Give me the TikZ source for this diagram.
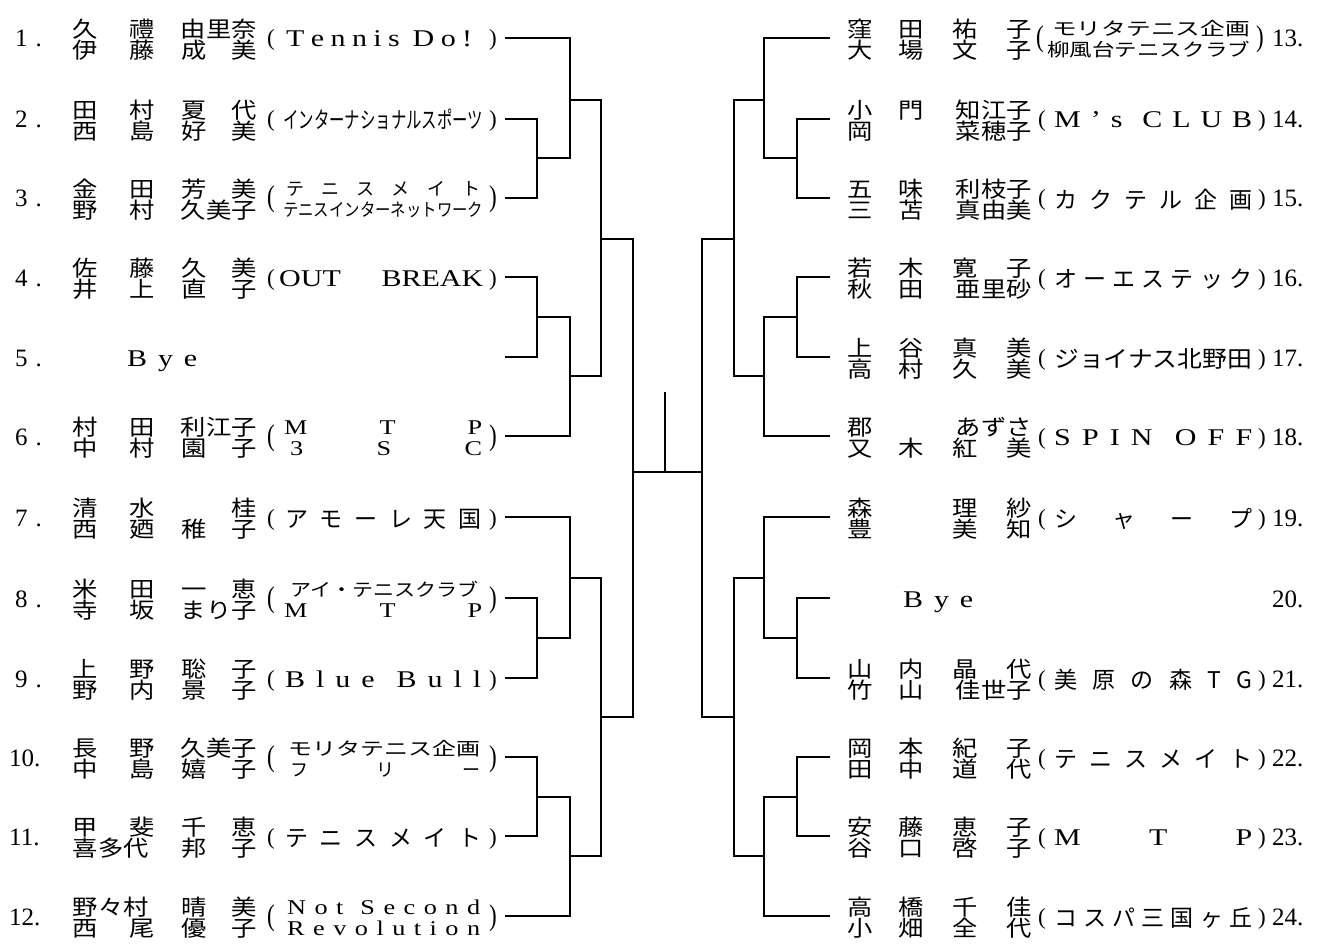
\documentclass[tikz,border=0pt]{standalone}
\usepackage{fontspec}
\usepackage{graphicx}
\setmainfont{Liberation Serif}
\newfontfamily\latw[FakeStretch=1.25]{Liberation Serif}
\newfontfamily\jp[FakeStretch=1.15]{Noto Sans CJK JP}
\newfontfamily\jpn{Noto Sans CJK JP}
\newcommand\Cs[1]{\makebox[25pt]{#1}}
\def\gA{32pt}\def\gB{27pt}\def\gC{25pt}
\newcommand\NQ[4]{\Cs{#1}\hspace{\gA}\Cs{#2}\hspace{\gB}\Cs{#3}\hspace{\gC}\Cs{#4}}
\newcommand\NP[3]{\Cs{#1}\hspace{\gA}\Cs{#2}\hspace{\gB}\makebox[\dimexpr50pt+\gC\relax][r]{#3}}
\newcommand\NF[3]{\makebox[\dimexpr50pt+\gA+\gB\relax][l]{#1}\Cs{#2}\hspace{\gC}\Cs{#3}}
\newcommand\Sp[2]{\makebox[#1][s]{#2}}
\newcommand\Fit[2]{\resizebox{#1}{\height}{#2}}
\newcommand\Ent[5]{\node[nm] (#1a) at (#2,#3-0.5) {#4};\node[nm] (#1b) at (#2,#3+20.5) {#5};}
\newcommand\PP[4]{\node[paren,anchor=base west] (#1l) at (#2,#4+8) {(};\node[paren,anchor=base east] (#1r) at (#3,#4+8) {)};}
\newcommand\PPt[4]{\node[paren,anchor=base west] (#1l) at (#2,#4+9) {\scalebox{1}[1.3]{(}};\node[paren,anchor=base east] (#1r) at (#3,#4+9) {\scalebox{1}[1.3]{)}};}
\begin{document}
\begin{tikzpicture}[x=1pt,y=-1pt,
  br/.style={line width=1.5pt,line join=miter},
  nm/.style={anchor=base west,inner sep=0pt,font=\jp\fontsize{22}{22}\selectfont},
  lat/.style={anchor=base west,inner sep=0pt,font=\latw\fontsize{24}{24}\selectfont},
  lats/.style={anchor=base west,inner sep=0pt,font=\latw\fontsize{21}{21}\selectfont},
  jpc/.style={anchor=base west,inner sep=0pt,font=\jpn\fontsize{23}{23}\selectfont},
  jps/.style={anchor=base west,inner sep=0pt,font=\jpn\fontsize{18}{18}\selectfont},
  paren/.style={inner sep=0pt,font=\fontsize{23}{23}\selectfont},
  num/.style={anchor=base west,inner sep=0pt,font=\fontsize{25}{25}\selectfont}]
\fill[white] (0,0) rectangle (1319,944);
\useasboundingbox (0,0) rectangle (1319,944);

% ---------- numbers ----------
\node[num] (k1) at (15,38+9) {1\kern8pt.};
\node[num] (k2) at (15,119+9) {2\kern8pt.};
\node[num] (k3) at (15,198+9) {3\kern8pt.};
\node[num] (k4) at (15,277+9) {4\kern8pt.};
\node[num] (k5) at (15,357+9) {5\kern8pt.};
\node[num] (k6) at (15,436+9) {6\kern8pt.};
\node[num] (k7) at (15,517+9) {7\kern8pt.};
\node[num] (k8) at (15,598+9) {8\kern8pt.};
\node[num] (k9) at (15,678+9) {9\kern8pt.};
\node[num] (k10) at (9,757+9) {10.};
\node[num] (k11) at (9,836+9) {11.};
\node[num] (k12) at (9,916+9) {12.};
\node[num] (k13) at (1272,38+9) {13.};
\node[num] (k14) at (1272,119+9) {14.};
\node[num] (k15) at (1272,198+9) {15.};
\node[num] (k16) at (1272,277+9) {16.};
\node[num] (k17) at (1272,357+9) {17.};
\node[num] (k18) at (1272,436+9) {18.};
\node[num] (k19) at (1272,517+9) {19.};
\node[num] (k20) at (1272,598+9) {20.};
\node[num] (k21) at (1272,678+9) {21.};
\node[num] (k22) at (1272,757+9) {22.};
\node[num] (k23) at (1272,836+9) {23.};
\node[num] (k24) at (1272,916+9) {24.};

% ---------- left names ----------
\def\gA{32pt}\def\gB{27pt}\def\gC{25pt}
\Ent{n1}{72.5}{38}{\NP{久}{禮}{由里奈}}{\NQ{伊}{藤}{成}{美}}
\Ent{n2}{72.5}{119}{\NQ{田}{村}{夏}{代}}{\NQ{西}{島}{好}{美}}
\Ent{n3}{72.5}{198}{\NQ{金}{田}{芳}{美}}{\NP{野}{村}{久美子}}
\Ent{n4}{72.5}{277}{\NQ{佐}{藤}{久}{美}}{\NQ{井}{上}{直}{子}}
\node[lat] (bye5) at (127,357+9) {\Sp{70pt}{B y e}};
\Ent{n6}{72.5}{436}{\NP{村}{田}{利江子}}{\NQ{中}{村}{園}{子}}
\Ent{n7}{72.5}{517}{\NQ{清}{水}{}{桂}}{\NQ{西}{廼}{稚}{子}}
\Ent{n8}{72.5}{598}{\NQ{米}{田}{一}{恵}}{\NP{寺}{坂}{まり子}}
\Ent{n9}{72.5}{678}{\NQ{上}{野}{聡}{子}}{\NQ{野}{内}{景}{子}}
\Ent{n10}{72.5}{757}{\NP{長}{野}{久美子}}{\NQ{中}{島}{嬉}{子}}
\Ent{n11}{72.5}{836}{\NQ{甲}{斐}{千}{恵}}{\NF{喜多代}{邦}{子}}
\Ent{n12}{72.5}{916}{\NF{野々村}{晴}{美}}{\NQ{西}{尾}{優}{子}}

% ---------- right names ----------
\def\gA{26pt}\def\gB{29pt}\def\gC{29pt}
\Ent{n13}{847.5}{38}{\NQ{窪}{田}{祐}{子}}{\NQ{大}{場}{文}{子}}
\Ent{n14}{847.5}{119}{\NP{小}{門}{知江子}}{\NP{岡}{}{菜穂子}}
\Ent{n15}{847.5}{198}{\NP{五}{味}{利枝子}}{\NP{三}{苫}{真由美}}
\Ent{n16}{847.5}{277}{\NQ{若}{木}{寛}{子}}{\NP{秋}{田}{亜里砂}}
\Ent{n17}{847.5}{357}{\NQ{上}{谷}{真}{美}}{\NQ{高}{村}{久}{美}}
\Ent{n18}{847.5}{436}{\NP{郡}{}{あずさ}}{\NQ{又}{木}{紅}{美}}
\Ent{n19}{847.5}{517}{\NQ{森}{}{理}{紗}}{\NQ{豊}{}{美}{知}}
\node[lat] (bye20) at (903,598+9) {\Sp{70pt}{B y e}};
\Ent{n21}{847.5}{678}{\NQ{山}{内}{晶}{代}}{\NP{竹}{山}{佳世子}}
\Ent{n22}{847.5}{757}{\NQ{岡}{本}{紀}{子}}{\NQ{田}{中}{道}{代}}
\Ent{n23}{847.5}{836}{\NQ{安}{藤}{恵}{子}}{\NQ{谷}{口}{啓}{子}}
\Ent{n24}{847.5}{916}{\NQ{高}{橋}{千}{佳}}{\NQ{小}{畑}{全}{代}}

% ---------- left clubs ----------
\PP{p1}{267}{497}{38}
\node[lat] (c1) at (286,38+9) {\Sp{186pt}{T e n n i s ~D o !}};
\PP{p2}{267}{497}{119}
\node[jpc] (c2) at (283,119+10) {\Fit{200pt}{インターナショナルスポーツ}};
\PPt{p3}{267}{497}{198}
\node[jps] (c3a) at (286,198-2) {\Sp{194pt}{テ ニ ス メ イ ト}};
\node[jps] (c3b) at (283,198+19) {\Fit{200pt}{テニスインターネットワーク}};
\PP{p4}{267}{497}{277}
\node[lat] (c4) at (279,277+9) {\Sp{204pt}{OUT BREAK}};
\PPt{p6}{267}{497}{436}
\node[lats] (c6a) at (284,436-1.5) {\Sp{198pt}{M T P}};
\node[lats] (c6b) at (290,436+19.5) {\Sp{192pt}{3 S C}};
\PP{p7}{267}{497}{517}
\node[jpc] (c7) at (285,517+10) {\Sp{196pt}{ア モ ー レ 天 国}};
\PPt{p8}{267}{497}{598}
\node[jps] (c8a) at (290,598-2) {\Fit{188pt}{アイ・テニスクラブ}};
\node[lats] (c8b) at (284,598+19.5) {\Sp{198pt}{M T P}};
\PP{p9}{267}{497}{678}
\node[lat] (c9) at (285,678+9) {\Sp{196pt}{B l u e ~B u l l}};
\PPt{p10}{267}{497}{757}
\node[jps] (c10a) at (288,757-2) {\Fit{192pt}{モリタテニス企画}};
\node[jps] (c10b) at (290,757+19) {\Sp{190pt}{フ リ ー}};
\PP{p11}{267}{497}{836}
\node[jpc] (c11) at (285,836+10) {\Sp{196pt}{テ ニ ス メ イ ト}};
\PPt{p12}{267}{497}{916}
\node[lats] (c12a) at (287,916-1.5) {\Sp{193pt}{N o t ~S e c o n d}};
\node[lats] (c12b) at (287,916+19.5) {\Sp{193pt}{R e v o l u t i o n}};

% ---------- right clubs ----------
\PPt{p13}{1036}{1264}{38}
\node[jps] (c13a) at (1052,38-2) {\Fit{198pt}{モリタテニス企画}};
\node[jps] (c13b) at (1047,38+19) {\Fit{203pt}{柳風台テニスクラブ}};
\PP{p14}{1038}{1266}{119}
\node[lat] (c14) at (1054,119+9) {\Sp{198pt}{M ’ s ~C L U B}};
\PP{p15}{1038}{1266}{198}
\node[jpc] (c15) at (1054,198+10) {\Sp{198pt}{カ ク テ ル 企 画}};
\PP{p16}{1038}{1266}{277}
\node[jpc] (c16) at (1054,277+10) {\Sp{198pt}{オ ー エ ス テ ッ ク}};
\PP{p17}{1038}{1266}{357}
\node[jpc] (c17) at (1054,357+10) {\Fit{198pt}{ジョイナス北野田}};
\PP{p18}{1038}{1266}{436}
\node[lat] (c18) at (1054,436+9) {\Sp{198pt}{S P I N ~O F F}};
\PP{p19}{1038}{1266}{517}
\node[jpc] (c19) at (1054,517+10) {\Sp{198pt}{シ ャ ー プ}};
\PP{p21}{1038}{1266}{678}
\node[jpc] (c21) at (1054,678+10) {\Sp{198pt}{美 原 の 森 T G}};
\PP{p22}{1038}{1266}{757}
\node[jpc] (c22) at (1054,757+10) {\Sp{198pt}{テ ニ ス メ イ ト}};
\PP{p23}{1038}{1266}{836}
\node[lat] (c23) at (1054,836+9) {\Sp{198pt}{M T P}};
\PP{p24}{1038}{1266}{916}
\node[jpc] (c24) at (1054,916+10) {\Sp{198pt}{コ ス パ 三 国 ヶ 丘}};

% ---------- bracket coordinates ----------
\coordinate (e1) at (505,38);  \coordinate (e2) at (505,119);
\coordinate (e3) at (505,198); \coordinate (e4) at (505,277);
\coordinate (e5) at (505,357); \coordinate (e6) at (505,436);
\coordinate (e7) at (505,517); \coordinate (e8) at (505,598);
\coordinate (e9) at (505,678); \coordinate (e10) at (505,757);
\coordinate (e11) at (505,836);\coordinate (e12) at (505,916);
\coordinate (e13) at (830,38);  \coordinate (e14) at (830,119);
\coordinate (e15) at (830,198); \coordinate (e16) at (830,277);
\coordinate (e17) at (830,357); \coordinate (e18) at (830,436);
\coordinate (e19) at (830,517); \coordinate (e20) at (830,598);
\coordinate (e21) at (830,678); \coordinate (e22) at (830,757);
\coordinate (e23) at (830,836); \coordinate (e24) at (830,916);
\coordinate (m23) at (537,158);  \coordinate (mA) at (570,100);
\coordinate (m45) at (537,317);  \coordinate (mB) at (570,376);
\coordinate (qA) at (601,239);
\coordinate (m89) at (537,638);  \coordinate (mC) at (570,578);
\coordinate (m1011) at (537,797);\coordinate (mD) at (570,856);
\coordinate (qB) at (601,717);
\coordinate (sL) at (633,472);
\coordinate (n1415) at (797,158); \coordinate (nA) at (764,100);
\coordinate (n1617) at (797,317); \coordinate (nB) at (764,376);
\coordinate (rA) at (734,239);
\coordinate (n2021) at (797,638); \coordinate (nC) at (764,578);
\coordinate (n2223) at (797,797); \coordinate (nD) at (764,856);
\coordinate (rB) at (734,717);
\coordinate (sR) at (702,472);
\coordinate (top) at (665,392);

% ---------- left bracket ----------
\draw[br] (e2) -| (m23) |- (e3);
\draw[br] (e1) -| (mA) |- (m23);
\draw[br] (e4) -| (m45) |- (e5);
\draw[br] (m45) -| (mB) |- (e6);
\draw[br] (mA) -| (qA) |- (mB);
\draw[br] (e8) -| (m89) |- (e9);
\draw[br] (e7) -| (mC) |- (m89);
\draw[br] (e10) -| (m1011) |- (e11);
\draw[br] (m1011) -| (mD) |- (e12);
\draw[br] (mC) -| (qB) |- (mD);
\draw[br] (qA) -| (sL) |- (qB);
% ---------- right bracket ----------
\draw[br] (e14) -| (n1415) |- (e15);
\draw[br] (e13) -| (nA) |- (n1415);
\draw[br] (e16) -| (n1617) |- (e17);
\draw[br] (n1617) -| (nB) |- (e18);
\draw[br] (nA) -| (rA) |- (nB);
\draw[br] (e20) -| (n2021) |- (e21);
\draw[br] (e19) -| (nC) |- (n2021);
\draw[br] (e22) -| (n2223) |- (e23);
\draw[br] (n2223) -| (nD) |- (e24);
\draw[br] (nC) -| (rB) |- (nD);
\draw[br] (rA) -| (sR) |- (rB);
% ---------- final ----------
\draw[br] (sL) -- (sR);
\draw[br] (top) -- (top |- sL);
\end{tikzpicture}
\end{document}
